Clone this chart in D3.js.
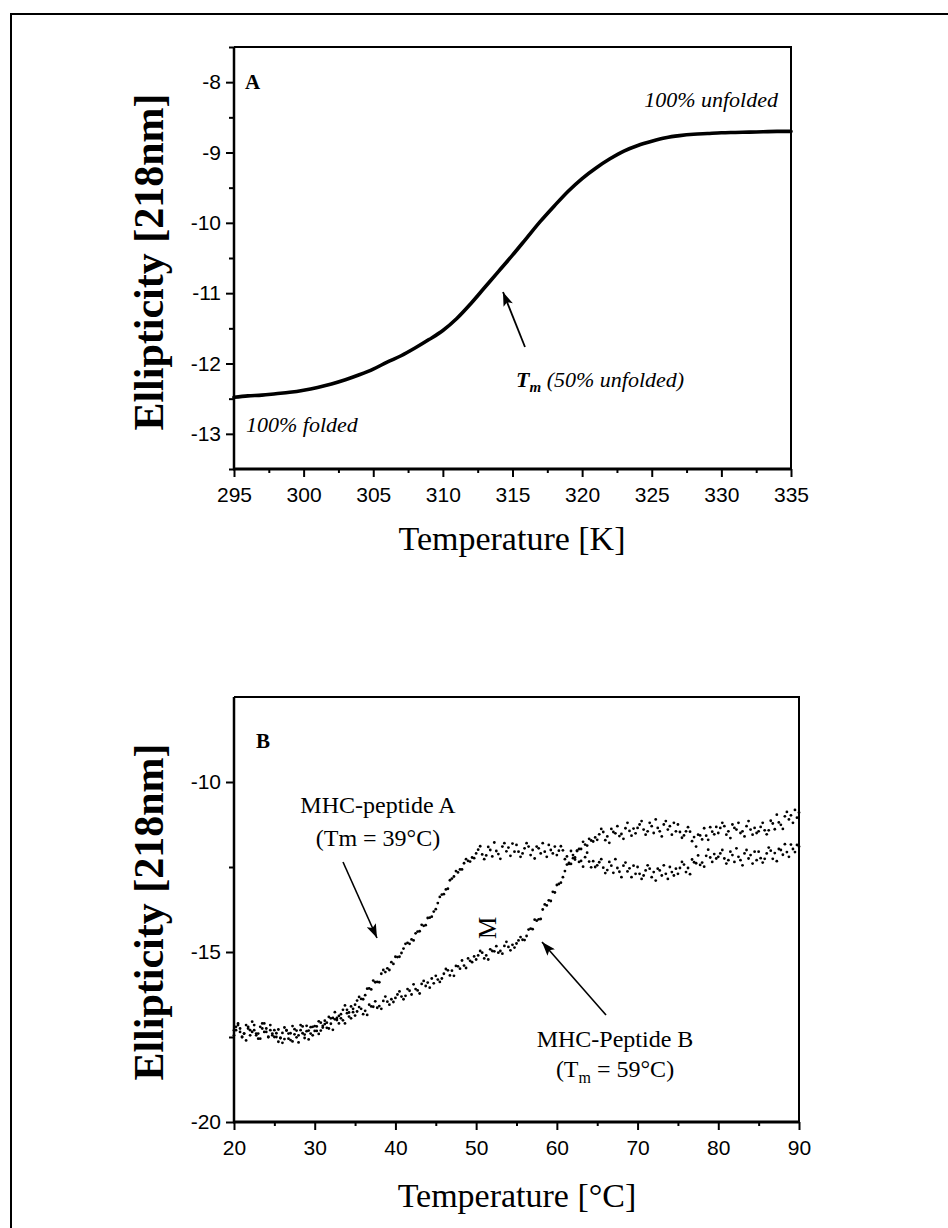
<!DOCTYPE html>
<html>
<head>
<meta charset="utf-8">
<script src="https://cdn.jsdelivr.net/npm/d3@7"></script>
<style>
  html, body { margin: 0; padding: 0; background: #fff; }
  svg { display: block; }
</style>
</head>
<body>
<svg id="fig" width="948" height="1228"></svg>
<script>
// ---------- Panel A: CD melting curve, temperature in Kelvin ----------
const tempK = [295,296,297,298,299,300,301,302,303,304,305,306,307,308,309,310,
  311,312,313,314,315,316,317,318,319,320,321,322,323,324,325,326,327,328,329,330,
  331,332,333,334,335];
const ellipticityA = [-12.48,-12.46,-12.45,-12.43,-12.41,-12.38,-12.34,-12.29,-12.23,-12.16,
  -12.08,-11.98,-11.89,-11.78,-11.66,-11.53,-11.36,-11.15,-10.92,-10.69,-10.46,-10.22,-9.98,
  -9.76,-9.55,-9.37,-9.22,-9.09,-8.98,-8.90,-8.84,-8.79,-8.76,-8.74,-8.73,-8.72,-8.715,-8.71,
  -8.705,-8.70,-8.70];
const ticksAx = [295,300,305,310,315,320,325,330,335];
const minorAx = [297.5,302.5,307.5,312.5,317.5,322.5,327.5,332.5];
const ticksAy = [-8,-9,-10,-11,-12,-13];
const minorAy = [-8.5,-9.5,-10.5,-11.5,-12.5,-13.5,-7.5];

// ---------- Panel B: two MHC-peptide complexes, 20–90 °C every 0.25 °C ----------
const tempC = d3.range(281).map(i => 20 + i * 0.25);
const peptideA = [
  -17.3,-17.2,-17.1,-17.35,-17.5,-17.4,-17.15,-17.25,-17.45,-17.05,-17.3,-17.4,-17.55,-17.2,-17.1,-17.35,-17.25,-17.5,-17.15,-17.4,
  -17.3,-17.5,-17.64,-17.53,-17.38,-17.22,-17.31,-17.55,-17.39,-17.63,-17.27,-17.31,-17.45,-17.15,-17.39,-17.53,-17.17,-17.31,-17.4,-17.2,
  -17.32,-17.19,-17.04,-17.08,-17.22,-17.12,-17.23,-16.91,-16.95,-16.94,-16.77,-16.94,-16.88,-16.95,-16.7,-16.57,-16.7,-16.78,-16.6,-16.67,
  -16.55,-16.43,-16.32,-16.38,-16.39,-16.27,-16.08,-16.07,-16.1,-15.84,-15.89,-15.88,-15.89,-15.64,-15.53,-15.59,-15.48,-15.53,-15.3,-15.35,
  -15.14,-15.15,-15.14,-15.03,-14.9,-14.76,-14.73,-14.76,-14.63,-14.66,-14.45,-14.4,-14.39,-14.2,-14.23,-14.21,-14.0,-13.99,-13.96,-13.81,
  -13.74,-13.56,-13.38,-13.31,-13.3,-13.16,-13.14,-12.89,-12.84,-12.78,-12.62,-12.66,-12.57,-12.57,-12.39,-12.27,-12.32,-12.34,-12.22,-12.24,
  -12.1,-11.99,-11.89,-12.13,-12.27,-12.16,-11.91,-12.0,-12.19,-11.78,-12.03,-12.12,-12.26,-11.9,-11.8,-12.04,-11.93,-12.17,-11.81,-12.05,
  -11.85,-12.05,-12.2,-12.1,-11.95,-11.8,-11.9,-12.15,-12.0,-12.25,-11.9,-11.95,-12.1,-11.8,-12.05,-12.2,-11.85,-12.0,-12.1,-11.9,
  -12.15,-12.02,-11.89,-12.01,-12.27,-12.19,-12.41,-12.03,-12.15,-12.22,-12.03,-12.35,-12.32,-12.49,-12.21,-12.08,-12.34,-12.51,-12.33,-12.5,
  -12.45,-12.36,-12.27,-12.52,-12.68,-12.59,-12.35,-12.46,-12.67,-12.27,-12.53,-12.64,-12.8,-12.46,-12.37,-12.63,-12.54,-12.8,-12.46,-12.7,
  -12.5,-12.7,-12.85,-12.75,-12.6,-12.45,-12.55,-12.8,-12.65,-12.9,-12.55,-12.6,-12.75,-12.45,-12.7,-12.85,-12.5,-12.65,-12.75,-12.55,
  -12.7,-12.53,-12.35,-12.43,-12.65,-12.53,-12.71,-12.28,-12.36,-12.39,-12.16,-12.44,-12.37,-12.49,-12.17,-11.99,-12.22,-12.35,-12.12,-12.25,
  -12.2,-12.1,-12.0,-12.25,-12.4,-12.3,-12.05,-12.15,-12.35,-11.95,-12.2,-12.3,-12.45,-12.1,-12.0,-12.25,-12.15,-12.4,-12.05,-12.3,
  -12.05,-12.24,-12.37,-12.26,-12.1,-11.93,-12.02,-12.26,-12.09,-12.33,-11.97,-12.0,-12.14,-11.83,-12.06,-12.2,-11.84,-11.97,-12.06,-11.85,
  -11.9];
const peptideB = [
  -17.45,-17.3,-17.15,-17.25,-17.5,-17.4,-17.6,-17.2,-17.3,-17.35,-17.15,-17.45,-17.4,-17.55,-17.25,-17.1,-17.35,-17.5,-17.3,-17.45,
  -17.5,-17.39,-17.28,-17.53,-17.67,-17.56,-17.3,-17.4,-17.59,-17.18,-17.42,-17.51,-17.66,-17.3,-17.19,-17.43,-17.33,-17.57,-17.21,-17.45,
  -17.18,-17.32,-17.41,-17.31,-17.17,-17.02,-17.08,-17.25,-17.11,-17.29,-16.98,-17.0,-17.1,-16.83,-17.01,-17.1,-16.8,-16.9,-16.95,-16.77,
  -16.87,-16.75,-16.62,-16.67,-16.83,-16.73,-16.85,-16.55,-16.6,-16.61,-16.45,-16.64,-16.59,-16.67,-16.44,-16.31,-16.46,-16.55,-16.39,-16.47,
  -16.35,-16.25,-16.16,-16.31,-16.39,-16.29,-16.09,-16.14,-16.25,-15.95,-16.09,-16.13,-16.22,-15.94,-15.85,-16.0,-15.9,-16.05,-15.78,-15.92,
  -15.7,-15.81,-15.88,-15.78,-15.64,-15.5,-15.54,-15.69,-15.55,-15.7,-15.41,-15.42,-15.49,-15.25,-15.4,-15.47,-15.19,-15.26,-15.3,-15.13,
  -15.22,-15.1,-14.97,-15.02,-15.19,-15.1,-15.22,-14.92,-14.97,-14.98,-14.83,-15.02,-14.97,-15.05,-14.82,-14.7,-14.85,-14.95,-14.79,-14.87,
  -14.75,-14.66,-14.56,-14.64,-14.65,-14.53,-14.34,-14.31,-14.33,-14.05,-14.08,-14.04,-14.03,-13.75,-13.6,-13.63,-13.48,-13.5,-13.23,-13.25,
  -13.03,-13.0,-12.96,-12.8,-12.62,-12.43,-12.38,-12.41,-12.24,-12.28,-12.02,-11.97,-11.97,-11.76,-11.84,-11.87,-11.67,-11.72,-11.75,-11.63,
  -11.7,-11.54,-11.38,-11.47,-11.71,-11.6,-11.79,-11.38,-11.47,-11.51,-11.3,-11.59,-11.53,-11.67,-11.36,-11.2,-11.44,-11.58,-11.37,-11.51,
  -11.35,-11.25,-11.15,-11.4,-11.55,-11.45,-11.2,-11.3,-11.5,-11.1,-11.35,-11.45,-11.6,-11.25,-11.15,-11.4,-11.3,-11.55,-11.2,-11.45,
  -11.25,-11.47,-11.64,-11.57,-11.45,-11.33,-11.46,-11.74,-11.62,-11.9,-11.55,-11.57,-11.69,-11.36,-11.58,-11.7,-11.33,-11.46,-11.54,-11.32,
  -11.5,-11.35,-11.2,-11.3,-11.55,-11.45,-11.65,-11.25,-11.35,-11.4,-11.2,-11.5,-11.45,-11.6,-11.3,-11.15,-11.4,-11.55,-11.35,-11.5,
  -11.45,-11.32,-11.2,-11.42,-11.54,-11.42,-11.14,-11.22,-11.39,-10.96,-11.19,-11.26,-11.38,-11.01,-10.88,-11.1,-10.98,-11.2,-10.82,-11.05,
  -10.9];
const ticksBx = [20,30,40,50,60,70,80,90];
const minorBx = [25,35,45,55,65,75,85];
const ticksBy = [-10,-15,-20];
const minorBy = [-12.5,-17.5];

const serif = "'Liberation Serif', 'Times New Roman', Times, serif";
const sans = "'Liberation Sans', Arial, Helvetica, sans-serif";

const svg = d3.select("#fig");

// arrowhead shared by the annotation arrows
svg.append("defs").append("marker")
  .attr("id", "head")
  .attr("viewBox", "0 0 14 10")
  .attr("refX", 14).attr("refY", 5)
  .attr("markerUnits", "userSpaceOnUse")
  .attr("markerWidth", 15).attr("markerHeight", 10)
  .attr("orient", "auto")
  .append("path").attr("d", "M0,0 L14,5 L0,10 L3,5 Z").attr("fill", "#000");

// outer figure frame
svg.append("path")
  .attr("d", "M11,1228 V14 H948")
  .attr("fill", "none").attr("stroke", "#000").attr("stroke-width", 2);

function drawFrame(x, y, xt, xm, yt, ym, fmtX) {
  const [x0, x1] = x.range(), [y0, y1] = y.range();
  const g = svg.append("g");
  // bottom axis
  g.append("g").attr("transform", `translate(0,${y0})`)
    .call(d3.axisBottom(x).tickValues(xt).tickSize(8).tickPadding(10).tickFormat(fmtX));
  g.append("g").attr("transform", `translate(0,${y0})`)
    .call(d3.axisBottom(x).tickValues(xm).tickSize(4).tickFormat(""));
  // left axis
  g.append("g").attr("transform", `translate(${x0},0)`)
    .call(d3.axisLeft(y).tickValues(yt).tickSize(8).tickPadding(5).tickFormat(d => String(d)));
  g.append("g").attr("transform", `translate(${x0},0)`)
    .call(d3.axisLeft(y).tickValues(ym).tickSize(5).tickFormat(""));
  g.selectAll(".domain").remove();
  g.selectAll(".tick line").attr("stroke", "#000").attr("stroke-width", 2);
  g.selectAll(".tick text").attr("font-family", sans).attr("font-size", 21).attr("fill", "#000");
  // box: heavier bottom/left axis lines, lighter top/right
  g.append("line").attr("x1", x0 - 1).attr("x2", x1 + 1).attr("y1", y0).attr("y2", y0)
    .attr("stroke", "#000").attr("stroke-width", 3);
  g.append("line").attr("x1", x0).attr("x2", x0).attr("y1", y0 + 1).attr("y2", y1)
    .attr("stroke", "#000").attr("stroke-width", 2.5);
  g.append("path").attr("d", `M${x0},${y1} H${x1} V${y0}`)
    .attr("fill", "none").attr("stroke", "#000").attr("stroke-width", 2);
  return g;
}

function yTitle(cx, cy) {
  svg.append("text")
    .attr("transform", `translate(${cx},${cy}) rotate(-90)`)
    .attr("text-anchor", "middle")
    .attr("font-family", serif).attr("font-weight", "bold").attr("font-size", 42)
    .text("Ellipticity [218nm]");
}
function xTitle(cx, y, label) {
  svg.append("text").attr("x", cx).attr("y", y).attr("text-anchor", "middle")
    .attr("font-family", serif).attr("font-size", 34).text(label);
}

// ================= Panel A =================
const xA = d3.scaleLinear().domain([295, 335]).range([234, 791]);
const yA = d3.scaleLinear().domain([-13.5, -7.5]).range([469, 47]);
drawFrame(xA, yA, ticksAx, minorAx, ticksAy, minorAy, d3.format("d"));

svg.append("path")
  .datum(tempK.map((t, i) => [t, ellipticityA[i]]))
  .attr("fill", "none").attr("stroke", "#000").attr("stroke-width", 3.6)
  .attr("stroke-linecap", "round")
  .attr("d", d3.line().x(d => xA(d[0])).y(d => yA(d[1])).curve(d3.curveMonotoneX));

svg.append("text").attr("x", 245).attr("y", 89)
  .attr("font-family", serif).attr("font-weight", "bold").attr("font-size", 21).text("A");
svg.append("text").attr("x", 778).attr("y", 107).attr("text-anchor", "end")
  .attr("font-family", serif).attr("font-style", "italic").attr("font-size", 22).text("100% unfolded");
svg.append("text").attr("x", 246).attr("y", 432)
  .attr("font-family", serif).attr("font-style", "italic").attr("font-size", 22).text("100% folded");
const tmA = svg.append("text").attr("x", 516).attr("y", 387)
  .attr("font-family", serif).attr("font-style", "italic").attr("font-size", 22);
tmA.append("tspan").attr("font-weight", "bold").text("T");
tmA.append("tspan").attr("font-weight", "bold").attr("font-size", 15).attr("dy", 5).text("m");
tmA.append("tspan").attr("dy", -5).text(" (50% unfolded)");

svg.append("line").attr("x1", 525).attr("y1", 347).attr("x2", 503).attr("y2", 292)
  .attr("stroke", "#000").attr("stroke-width", 1.8).attr("marker-end", "url(#head)");

yTitle(163, 262);
xTitle(512, 550, "Temperature [K]");

// ================= Panel B =================
const xB = d3.scaleLinear().domain([20, 90]).range([234, 799]);
const yB = d3.scaleLinear().domain([-20, -7.5]).range([1122, 697]);
drawFrame(xB, yB, ticksBx, minorBx, ticksBy, minorBy, d3.format("d"));

const series = [peptideA, peptideB];
series.forEach(vals => {
  svg.append("g").selectAll("circle")
    .data(tempC.map((t, i) => [t, vals[i]]))
    .join("circle")
    .attr("cx", d => xB(d[0])).attr("cy", d => yB(d[1]))
    .attr("r", 1.4).attr("fill", "#000");
});

svg.append("text").attr("x", 256).attr("y", 748)
  .attr("font-family", serif).attr("font-weight", "bold").attr("font-size", 21).text("B");

function labelLines(cx, y1, y2, line1, sub) {
  svg.append("text").attr("x", cx).attr("y", y1).attr("text-anchor", "middle")
    .attr("font-family", serif).attr("font-size", 24).text(line1);
  const t = svg.append("text").attr("x", cx).attr("y", y2).attr("text-anchor", "middle")
    .attr("font-family", serif).attr("font-size", 24);
  sub(t);
}
labelLines(378, 813, 846, "MHC-peptide A", t => t.text("(Tm = 39°C)"));
labelLines(615, 1047, 1077, "MHC-Peptide B", t => {
  t.append("tspan").text("(T");
  t.append("tspan").attr("font-size", 16).attr("dy", 6).text("m");
  t.append("tspan").attr("dy", -6).text(" = 59°C)");
});

svg.append("text")
  .attr("transform", "translate(487,928) rotate(-90)")
  .attr("text-anchor", "middle").attr("dominant-baseline", "central")
  .attr("font-family", serif).attr("font-size", 25).text("M");

svg.append("line").attr("x1", 343).attr("y1", 862).attr("x2", 377).attr("y2", 938)
  .attr("stroke", "#000").attr("stroke-width", 1.6).attr("marker-end", "url(#head)");
svg.append("line").attr("x1", 606).attr("y1", 1015).attr("x2", 542).attr("y2", 942)
  .attr("stroke", "#000").attr("stroke-width", 1.6).attr("marker-end", "url(#head)");

yTitle(163, 912);
xTitle(517, 1207, "Temperature [°C]");
</script>
</body>
</html>
